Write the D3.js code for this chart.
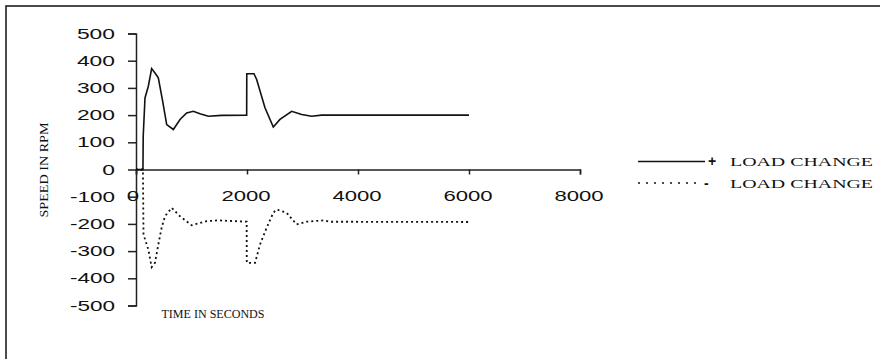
<!DOCTYPE html>
<html><head><meta charset="utf-8">
<script src="https://cdn.jsdelivr.net/npm/d3@7"></script>
<style>body{margin:0;background:#fff}svg{display:block}</style>
</head><body>
<script>
// ---- data ----
const posTime = [0, 100, 125, 130, 162, 222, 282, 342, 402, 480, 553, 673, 793, 913, 1033, 1153, 1303, 1544, 1994, 1996, 2126, 2174, 2324, 2474, 2594, 2805, 2985, 3165, 3345, 6000];
const posVals = [0, 0, 0, 122, 263, 306, 371, 355, 337, 251, 165, 147, 184, 208, 214, 205, 196, 199, 200, 352, 352, 331, 227, 156, 184, 214, 202, 196, 200, 200];
const negTime = [0, 100, 125, 135, 222, 282, 342, 402, 462, 522, 643, 793, 1003, 1273, 1483, 1994, 1996, 2145, 2234, 2354, 2474, 2534, 2714, 2894, 3074, 3375, 3500, 6000];
const negVals = [0, 0, 0, -239, -294, -359, -343, -276, -214, -172, -141, -172, -205, -190, -187, -192, -343, -343, -276, -214, -159, -147, -159, -202, -192, -187, -192, -193];
const xTicks = [0, 2000, 4000, 6000, 8000];
const yTicks = [-500, -400, -300, -200, -100, 0, 100, 200, 300, 400, 500];
const seriesNames = ["+ LOAD CHANGE", "-  LOAD CHANGE"];
const xTitle = "TIME IN SECONDS";
const yTitle = "SPEED IN RPM";

const W = 880, H = 359;
const svg = d3.select("body").append("svg").attr("width", W).attr("height", H);

// outer frame
svg.append("rect").attr("x", 6).attr("y", 6).attr("width", 890).attr("height", 370)
  .attr("fill", "none").attr("stroke", "#111").attr("stroke-width", 1.5);

const x = d3.scaleLinear().domain([0, 8000]).range([136, 580]);
const y = d3.scaleLinear().domain([-500, 500]).range([305.5, 33.5]);

// y axis
const yAx = svg.append("g").attr("transform", `translate(${x(0)},0)`)
  .call(d3.axisLeft(y).tickValues(yTicks).tickSize(8).tickPadding(0).tickFormat(d => ""));
yAx.select(".domain").attr("stroke", "#222").attr("stroke-width", 1.5);
yAx.selectAll(".tick line").attr("stroke", "#222").attr("stroke-width", 1.5);
// y tick labels
svg.append("g").selectAll("text").data(yTicks).join("text")
  .attr("x", 115).attr("y", d => y(d)).attr("dy", "0.36em")
  .attr("text-anchor", "end")
  .attr("font-family", "Liberation Sans, Arial, sans-serif").attr("font-size", 14)
  .attr("fill", "#111")
  .attr("textLength", d => String(d).replace("-", "").length * 12.7 + (d < 0 ? 7 : 0))
  .attr("lengthAdjust", "spacingAndGlyphs")
  .text(d => d);

// x axis
const xAx = svg.append("g").attr("transform", `translate(0,${y(0)})`)
  .call(d3.axisBottom(x).tickValues(xTicks).tickSize(5).tickFormat(d => ""));
xAx.select(".domain").attr("stroke", "#222").attr("stroke-width", 1.5);
xAx.selectAll(".tick line").attr("stroke", "#222").attr("stroke-width", 1.5);
svg.append("g").selectAll("text").data(xTicks).join("text")
  .attr("x", d => x(d) - (d === 0 ? 3 : 1)).attr("y", 201)
  .attr("text-anchor", "middle")
  .attr("font-family", "Liberation Sans, Arial, sans-serif").attr("font-size", 15)
  .attr("fill", "#111")
  .attr("textLength", d => String(d).length * 12.3)
  .attr("lengthAdjust", "spacingAndGlyphs")
  .text(d => d);

// titles
svg.append("text").attr("x", 213).attr("y", 318).attr("text-anchor", "middle")
  .attr("font-family", "Liberation Serif, Times New Roman, serif").attr("font-size", 13)
  .attr("textLength", 103).attr("lengthAdjust", "spacingAndGlyphs")
  .attr("fill", "#111").text(xTitle);
svg.append("text").attr("transform", "translate(48,170) rotate(-90)").attr("text-anchor", "middle")
  .attr("font-family", "Liberation Serif, Times New Roman, serif").attr("font-size", 12)
  .attr("textLength", 95).attr("lengthAdjust", "spacingAndGlyphs")
  .attr("fill", "#111").text(yTitle);

// lines
const line = d3.line().x(d => x(d[0])).y(d => y(d[1]));
const posData = posTime.map((t, i) => [t, posVals[i]]);
const negData = negTime.map((t, i) => [t, negVals[i]]);
svg.append("path").datum(negData).attr("d", line)
  .attr("fill", "none").attr("stroke", "#111").attr("stroke-width", 1.8)
  .attr("stroke-dasharray", "2,3");
svg.append("path").datum(posData).attr("d", line)
  .attr("fill", "none").attr("stroke", "#111").attr("stroke-width", 1.6);

// legend
const lg = svg.append("g");
lg.append("line").attr("x1", 638).attr("x2", 705).attr("y1", 161.5).attr("y2", 161.5)
  .attr("stroke", "#111").attr("stroke-width", 1.5);
lg.append("line").attr("x1", 638).attr("x2", 701).attr("y1", 183).attr("y2", 183)
  .attr("stroke", "#111").attr("stroke-width", 1.5).attr("stroke-dasharray", "2,6");
[[seriesNames[0], 166, 708], [seriesNames[1], 187.5, 704]].forEach(([s, yy, xx]) => {
  const sign = s.slice(0, 1), rest = s.slice(1).trim();
  lg.append("text").attr("x", xx).attr("y", yy)
    .attr("font-family", "Liberation Sans, Arial, sans-serif").attr("font-size", 14)
    .attr("font-weight", "bold")
    .attr("fill", "#111").text(sign);
  lg.append("text").attr("x", 730).attr("y", yy)
    .attr("font-family", "Liberation Serif, Times New Roman, serif").attr("font-size", 13)
    .attr("textLength", 143).attr("lengthAdjust", "spacingAndGlyphs")
    .attr("fill", "#111").text(rest);
});
</script>
</body></html>
